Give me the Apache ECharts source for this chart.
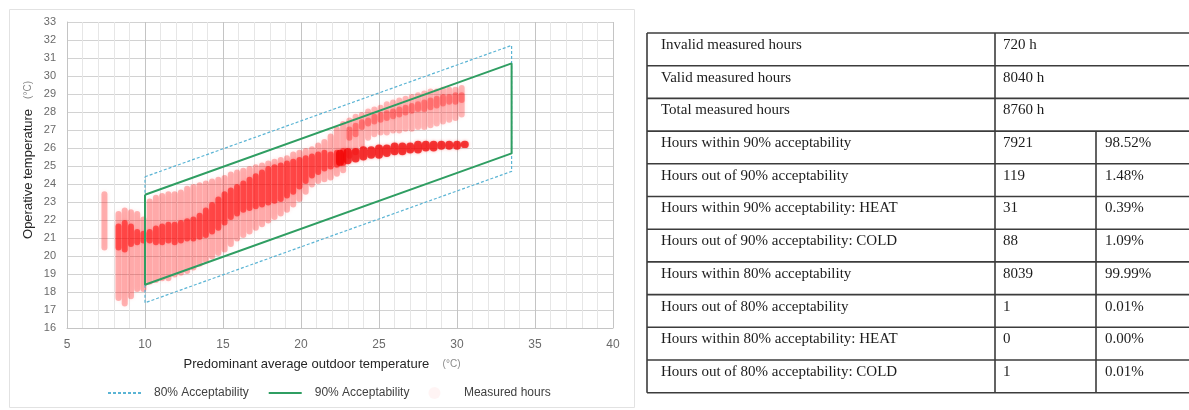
<!DOCTYPE html>
<html>
<head>
<meta charset="utf-8">
<script src="https://cdn.jsdelivr.net/npm/echarts@6/dist/echarts.min.js"></script>
<style>
html, body { margin: 0; padding: 0; background: #fff; }
#chart { width: 1189px; height: 410px; }
</style>
</head>
<body>
<div id="chart"></div>
<script>
"use strict"

// comfort band corners (outdoor temp, operative temp)
const bandX = [10, 33.5, 33.5, 10, 10];
const band80Y = [24.4, 31.7, 24.7, 17.4, 24.4];
const band90Y = [23.4, 30.7, 25.7, 18.4, 23.4];

// measured hours, read as vertical streaks: outdoor temp, lowest, highest, dense from, dense to
const cloudX     = [7.4, 8.3, 8.7, 9.1, 9.5, 9.9, 10.3, 10.7, 11.1, 11.5, 11.9, 12.3, 12.7, 13.1, 13.5, 13.9, 14.3, 14.7, 15.1, 15.5, 15.9, 16.3, 16.7, 17.1, 17.5, 17.9, 18.3, 18.7, 19.1, 19.5, 19.9, 20.3, 20.7, 21.1, 21.5, 21.9, 22.3, 22.7];
const cloudLo    = [20.3, 17.5, 17.2, 17.6, 18.0, 18.0, 18.4, 18.5, 18.6, 18.6, 18.8, 18.9, 19.0, 19.2, 19.4, 19.6, 19.8, 20.0, 20.2, 20.5, 20.8, 21.0, 21.2, 21.4, 21.6, 21.8, 22.0, 22.2, 22.4, 22.7, 23.0, 23.4, 23.8, 24.0, 24.1, 24.2, 24.4, 24.6];
const cloudHi    = [23.6, 22.5, 22.7, 22.6, 22.5, 22.2, 23.2, 23.4, 23.5, 23.6, 23.6, 23.7, 23.9, 24.0, 24.1, 24.2, 24.3, 24.4, 24.5, 24.7, 24.8, 24.9, 25.0, 25.1, 25.2, 25.3, 25.4, 25.5, 25.6, 25.8, 25.9, 26.0, 26.1, 26.3, 26.5, 26.8, 27.2, 27.5];
const cloudDenLo = [20.3, 20.3, 20.2, 20.5, 20.6, 20.7, 20.7, 20.6, 20.6, 20.7, 20.6, 20.7, 20.8, 20.8, 20.9, 21.0, 21.2, 21.4, 21.7, 22.0, 22.2, 22.4, 22.5, 22.6, 22.7, 22.8, 22.9, 23.0, 23.2, 23.4, 23.7, 24.0, 24.3, 24.5, 24.7, 24.8, 24.9, 25.0];
const cloudDenHi = [20.3, 21.8, 22.0, 21.8, 21.5, 21.4, 21.5, 21.7, 21.8, 21.9, 21.9, 22.0, 22.1, 22.2, 22.4, 22.7, 23.0, 23.3, 23.6, 23.8, 24.0, 24.2, 24.4, 24.6, 24.8, 25.0, 25.1, 25.2, 25.3, 25.4, 25.5, 25.6, 25.7, 25.8, 25.9, 25.8, 25.9, 26.0];

// warm period: upper streaks and the low dense band
const warmX      = [23.1, 23.5, 23.9, 24.3, 24.7, 25.1, 25.5, 25.9, 26.3, 26.7, 27.1, 27.5, 27.9, 28.3, 28.7, 29.1, 29.5, 29.9, 30.3];
const warmLo     = [25.4, 25.6, 26.0, 26.4, 26.6, 26.7, 26.7, 26.8, 26.8, 26.9, 26.9, 27.0, 27.0, 27.1, 27.2, 27.3, 27.4, 27.5, 27.7];
const warmHi     = [27.7, 27.9, 28.0, 28.2, 28.3, 28.4, 28.6, 28.7, 28.8, 28.9, 29.0, 29.1, 29.2, 29.3, 29.3, 29.4, 29.4, 29.4, 29.5];
const warmDenLo  = [26.4, 26.6, 27.0, 27.2, 27.3, 27.4, 27.5, 27.6, 27.7, 27.8, 27.9, 28.0, 28.0, 28.1, 28.2, 28.3, 28.4, 28.4, 28.5];
const warmDenHi  = [27.2, 27.4, 27.6, 27.7, 27.9, 28.0, 28.1, 28.2, 28.3, 28.4, 28.5, 28.6, 28.7, 28.8, 28.9, 29.0, 29.0, 29.1, 29.1];
const lowBandX   = [22.5, 23.0, 23.5, 24.0, 24.5, 25.0, 25.5, 26.0, 26.5, 27.0, 27.5, 28.0, 28.5, 29.0, 29.5, 30.0, 30.5];
const lowBandLo  = [25.0, 25.1, 25.2, 25.3, 25.4, 25.4, 25.5, 25.6, 25.6, 25.7, 25.7, 25.8, 25.8, 25.9, 25.9, 25.9, 26.0];
const lowBandHi  = [25.9, 26.0, 26.0, 26.1, 26.1, 26.2, 26.2, 26.3, 26.3, 26.3, 26.4, 26.4, 26.4, 26.4, 26.4, 26.4, 26.4];

const xTicks = { min: 5, max: 40, interval: 5 };
const yTicks = { min: 16, max: 33, interval: 1 };

const tableLabels = [
    "Invalid measured hours",
    "Valid measured hours",
    "Total measured hours",
    "Hours within 90% acceptability",
    "Hours out of 90% acceptability",
    "Hours within 90% acceptability: HEAT",
    "Hours out of 90% acceptability: COLD",
    "Hours within 80% acceptability",
    "Hours out of 80% acceptability",
    "Hours within 80% acceptability: HEAT",
    "Hours out of 80% acceptability: COLD"
];
const tableCounts = ["720 h", "8040 h", "8760 h", "7921", "119", "31", "88", "8039", "1", "0", "1"];
const tablePercents = ["", "", "", "98.52%", "1.48%", "0.39%", "1.09%", "99.99%", "0.01%", "0.00%", "0.01%"];

const sans = "'Liberation Sans', Arial, sans-serif";
const serif = "'Liberation Serif', 'Times New Roman', serif";

function makeStreak(outerAlpha, coreAlpha)
{
    return (params, api) =>
    {
        const x = api.value(0);
        const lo = api.coord([x, api.value(1)]);
        const hi = api.coord([x, api.value(2)]);
        const w = 6;
        const children = [{
            type: "rect",
            shape: { x: lo[0] - w / 2, y: hi[1], width: w, height: lo[1] - hi[1], r: 3 },
            style: { fill: `rgba(255,20,20,${outerAlpha})`, shadowBlur: 4, shadowColor: "rgba(255,0,0,0.3)" }
        }];
        if (api.value(4) > api.value(3))
        {
            const dlo = api.coord([x, api.value(3)]);
            const dhi = api.coord([x, api.value(4)]);
            children.push({
                type: "rect",
                shape: { x: dlo[0] - w / 2, y: dhi[1], width: w, height: dlo[1] - dhi[1], r: 3 },
                style: { fill: `rgba(255,0,0,${coreAlpha})`, shadowBlur: 3, shadowColor: "rgba(255,0,0,0.35)" }
            });
        }
        return { type: "group", children: children };
    };
}

function bandItem(params, api)
{
    const x = api.value(0);
    const lo = api.coord([x, api.value(1)]);
    const hi = api.coord([x, api.value(2)]);
    const w = 8;
    return {
        type: "rect",
        shape: { x: lo[0] - w / 2, y: hi[1], width: w, height: lo[1] - hi[1], r: 4 },
        style: { fill: "rgba(240,0,0,0.72)", shadowBlur: 3, shadowColor: "rgba(255,0,0,0.5)" }
    };
}

const cloudData = cloudX.map((x, i) => [x, cloudLo[i], cloudHi[i], cloudDenLo[i], cloudDenHi[i]]);
const warmData = warmX.map((x, i) => [x, warmLo[i], warmHi[i], warmDenLo[i], warmDenHi[i]]);
const lowBandData = lowBandX.map((x, i) => [x, lowBandLo[i], lowBandHi[i]]);

// table drawn as graphic elements
const tblLeft = 647, tblDiv1 = 995, tblDiv2 = 1096, tblRight = 1189, tblTop = 33, rowH = 32.7;
const tblLine = { stroke: "#3c3c3c", lineWidth: 1.6 };
const tableGraphics = [];
for (let i = 0; i <= tableLabels.length; ++i)
    tableGraphics.push({ type: "line", shape: { x1: tblLeft, y1: tblTop + i * rowH, x2: tblRight, y2: tblTop + i * rowH }, style: tblLine });
const tblBottom = tblTop + tableLabels.length * rowH;
tableGraphics.push({ type: "line", shape: { x1: tblLeft, y1: tblTop, x2: tblLeft, y2: tblBottom }, style: tblLine });
tableGraphics.push({ type: "line", shape: { x1: tblDiv1, y1: tblTop, x2: tblDiv1, y2: tblBottom }, style: tblLine });
tableGraphics.push({ type: "line", shape: { x1: tblDiv2, y1: tblTop + 3 * rowH, x2: tblDiv2, y2: tblBottom }, style: tblLine });
const cellText = (x, y, t) => ({ type: "text", x: x, y: y, style: { text: t, fill: "#1c1c1c", font: "15px " + serif, verticalAlign: "middle" } });
tableLabels.forEach((lbl, i) =>
{
    const y = tblTop + i * rowH + 12;
    tableGraphics.push(cellText(tblLeft + 14, y, lbl));
    tableGraphics.push(cellText(tblDiv1 + 8, y, tableCounts[i]));
    if (tablePercents[i]) tableGraphics.push(cellText(tblDiv2 + 9, y, tablePercents[i]));
});

const option = {
    animation: false,
    backgroundColor: "#fff",
    textStyle: { fontFamily: sans },
    grid: { left: 67, right: 576, top: 22, bottom: 82 },
    legend: {
        left: 107, top: 387, padding: 0,
        itemWidth: 33, itemHeight: 12, itemGap: 19,
        textStyle: { fontSize: 12, color: "#404040", fontFamily: sans, padding: [0, 0, 0, 8] },
        data: [
            { name: "80% Acceptability", itemStyle: { opacity: 0 } },
            { name: "90% Acceptability", itemStyle: { opacity: 0 } },
            { name: "Measured hours", icon: "circle", itemStyle: { color: "rgba(255,150,150,0.1)" } }
        ]
    },
    xAxis: {
        type: "value", min: xTicks.min, max: xTicks.max, interval: xTicks.interval,
        axisLine: { show: true, lineStyle: { color: "#c4c4c4" } },
        axisTick: { show: false },
        minorTick: { show: false, splitNumber: 5 },
        minorSplitLine: { show: true, lineStyle: { color: "#e6e6e6" } },
        splitLine: { show: true, lineStyle: { color: "#c4c4c4" } },
        axisLabel: { color: "#6a6a6a", fontSize: 12, margin: 11 },
        name: "{n|Predominant average outdoor temperature}    {u|(°C)}",
        nameLocation: "middle", nameGap: 30,
        nameTextStyle: {
            padding: [0, 36, 0, 0],
            rich: {
                n: { fontSize: 13, color: "#262626", fontFamily: sans },
                u: { fontSize: 10, color: "#8a8a8a", fontFamily: sans }
            }
        }
    },
    yAxis: {
        type: "value", min: yTicks.min, max: yTicks.max, interval: yTicks.interval,
        axisLine: { show: true, lineStyle: { color: "#c4c4c4" } },
        axisTick: { show: false },
        splitLine: { show: true, lineStyle: { color: "#d2d2d2" } },
        axisLabel: { color: "#6a6a6a", fontSize: 11, margin: 11 },
        name: "{n|Operative temperature}   {u|(°C)}",
        nameLocation: "middle", nameRotate: 90, nameGap: 32,
        nameTextStyle: {
            padding: [0, 0, 0, 30],
            rich: {
                n: { fontSize: 13, color: "#262626", fontFamily: sans },
                u: { fontSize: 10, color: "#8a8a8a", fontFamily: sans }
            }
        }
    },
    graphic: {
        elements: [
            { type: "rect", left: 7, top: 7, shape: { width: 625, height: 398 }, style: { fill: "none", stroke: "#e2e2e2", lineWidth: 1 }, silent: true }
        ].concat(tableGraphics)
    },
    series: [
        { name: "Measured hours", type: "custom", renderItem: makeStreak(0.3, 0.5), data: cloudData, encode: { x: 0, y: [1, 2] }, z: 2 },
        { name: "Measured hours", type: "custom", renderItem: makeStreak(0.28, 0.3), data: warmData, encode: { x: 0, y: [1, 2] }, z: 2 },
        { name: "Measured hours", type: "custom", renderItem: bandItem, data: lowBandData, encode: { x: 0, y: [1, 2] }, z: 2 },
        {
            name: "80% Acceptability", type: "line", symbol: "none", z: 4,
            lineStyle: { color: "#5ab4d4", width: 1.2, type: [3, 2] },
            itemStyle: { color: "#5ab4d4" },
            data: bandX.map((x, i) => [x, band80Y[i]])
        },
        {
            name: "90% Acceptability", type: "line", symbol: "none", z: 5,
            lineStyle: { color: "#2f9e62", width: 2 },
            itemStyle: { color: "#2f9e62" },
            data: bandX.map((x, i) => [x, band90Y[i]])
        }
    ]
};

const myChart = echarts.init(document.getElementById("chart"), null, { renderer: "canvas" });
myChart.setOption(option);
</script>
</body>
</html>
